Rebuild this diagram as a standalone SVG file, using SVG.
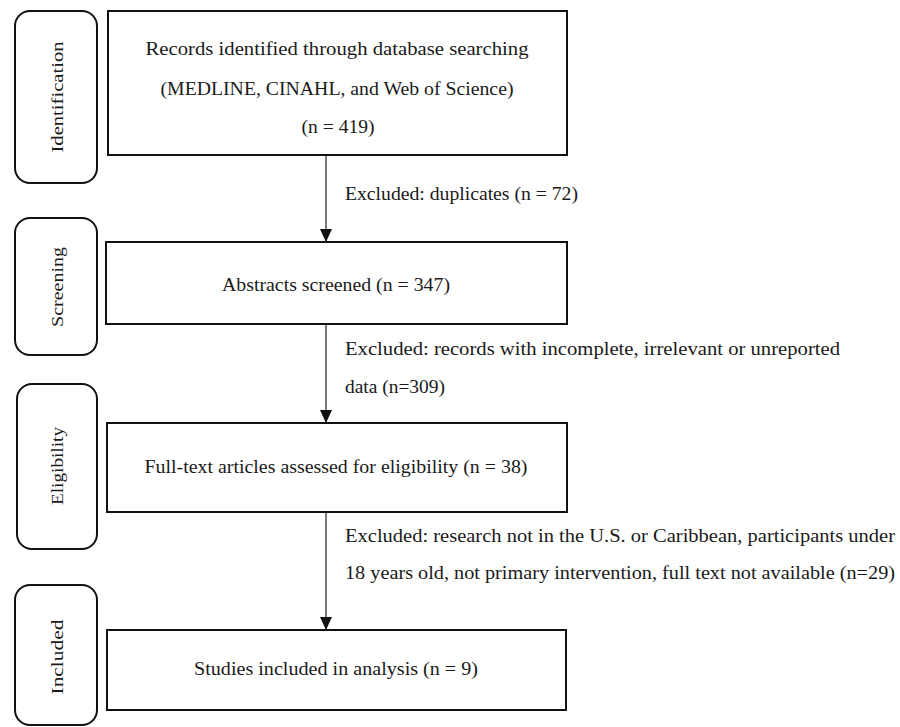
<svg xmlns="http://www.w3.org/2000/svg" width="900" height="727" viewBox="0 0 900 727">
<style>
  text { font-family: "Liberation Serif", "DejaVu Serif", serif; fill: #1a1a1a; }
  .box { fill: #fff; stroke: #111; stroke-width: 2; }
  .stage { fill: #fff; stroke: #111; stroke-width: 2; }
  .t { font-size: 18px; text-anchor: middle; }
  .x { font-size: 18px; text-anchor: start; }
  .lab { font-size: 17px; text-anchor: middle; dominant-baseline: central; }
  .conn { stroke: #222; stroke-width: 1.2; fill: none; }
</style>
<defs>
  <marker id="arr" markerWidth="13" markerHeight="12" refX="13" refY="6" orient="auto" markerUnits="userSpaceOnUse">
    <path d="M0,0 L13,6 L0,12 Z" fill="#111"/>
  </marker>
</defs>
<rect width="900" height="727" fill="#fff"/>

<g id="stage-identification">
  <rect class="stage" x="15" y="11" width="82" height="172" rx="15"/>
  <text class="lab" transform="translate(57,97) rotate(-90)" textLength="111" lengthAdjust="spacingAndGlyphs">Identification</text>
</g>
<g id="stage-screening">
  <rect class="stage" x="15" y="218" width="82" height="137" rx="15"/>
  <text class="lab" transform="translate(57,287) rotate(-90)" textLength="80" lengthAdjust="spacingAndGlyphs">Screening</text>
</g>
<g id="stage-eligibility">
  <rect class="stage" x="17" y="384" width="80" height="165" rx="15"/>
  <text class="lab" transform="translate(57,466) rotate(-90)" textLength="78" lengthAdjust="spacingAndGlyphs">Eligibility</text>
</g>
<g id="stage-included">
  <rect class="stage" x="15" y="585" width="82" height="140" rx="15"/>
  <text class="lab" transform="translate(57,657) rotate(-90)" textLength="75" lengthAdjust="spacingAndGlyphs">Included</text>
</g>

<g id="box-records">
  <rect class="box" x="108" y="11" width="459" height="144"/>
  <text class="t" x="337" y="55" textLength="383" lengthAdjust="spacingAndGlyphs">Records identified through database searching</text>
  <text class="t" x="337" y="95" textLength="353" lengthAdjust="spacingAndGlyphs">(MEDLINE, CINAHL, and Web of Science)</text>
  <text class="t" x="338" y="133" textLength="73" lengthAdjust="spacingAndGlyphs">(n = 419)</text>
</g>
<g id="box-abstracts">
  <rect class="box" x="106" y="242" width="461" height="82"/>
  <text class="t" x="336" y="291" textLength="228" lengthAdjust="spacingAndGlyphs">Abstracts screened (n = 347)</text>
</g>
<g id="box-fulltext">
  <rect class="box" x="107" y="423" width="460" height="89"/>
  <text class="t" x="336" y="473" textLength="383" lengthAdjust="spacingAndGlyphs">Full-text articles assessed for eligibility (n = 38)</text>
</g>
<g id="box-included">
  <rect class="box" x="107" y="630" width="459" height="80"/>
  <text class="t" x="336" y="675" textLength="284" lengthAdjust="spacingAndGlyphs">Studies included in analysis (n = 9)</text>
</g>

<g id="connectors">
  <line class="conn" x1="326" y1="155" x2="326" y2="242" marker-end="url(#arr)"/>
  <line class="conn" x1="326" y1="324" x2="326" y2="423" marker-end="url(#arr)"/>
  <line class="conn" x1="326" y1="512" x2="326" y2="630" marker-end="url(#arr)"/>
  <text class="x" x="345" y="200" textLength="233" lengthAdjust="spacingAndGlyphs">Excluded: duplicates (n = 72)</text>
  <text class="x" x="345" y="355" textLength="495" lengthAdjust="spacingAndGlyphs">Excluded: records with incomplete, irrelevant or unreported</text>
  <text class="x" x="345" y="393" textLength="100" lengthAdjust="spacingAndGlyphs">data (n=309)</text>
  <text class="x" x="345" y="542" textLength="550" lengthAdjust="spacingAndGlyphs">Excluded: research not in the U.S. or Caribbean, participants under</text>
  <text class="x" x="345" y="579" textLength="550" lengthAdjust="spacingAndGlyphs">18 years old, not primary intervention, full text not available (n=29)</text>
</g>
</svg>
